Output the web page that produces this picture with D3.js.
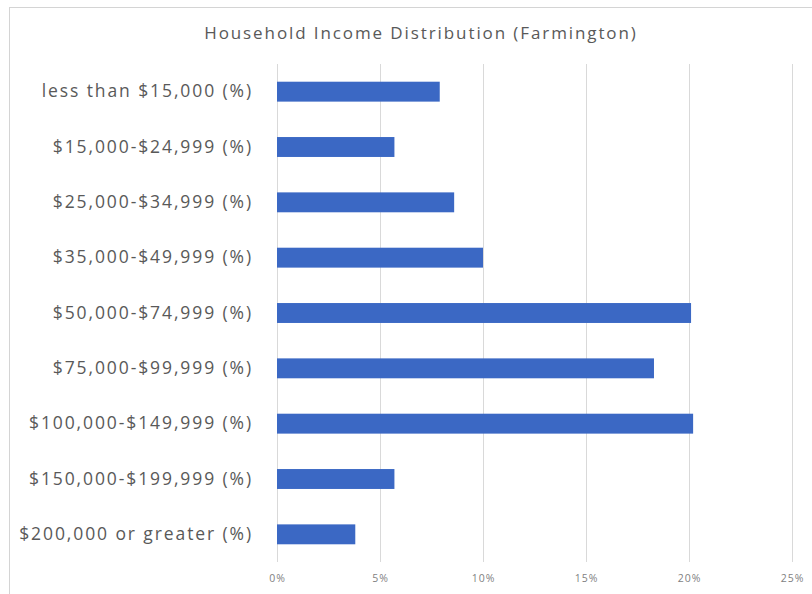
<!DOCTYPE html>
<meta charset="utf-8">
<style>
body { margin: 0; background: #fff; }
.grid line { stroke: #d9d9d9; }
.grid path { stroke: none; }
.xaxis text { fill: #7f7f7f; font-family: 'Open Sans'; font-size: 10.5px; letter-spacing: 1px; }
.yaxis text { fill: #595959; font-family: 'Open Sans'; font-size: 17.5px; letter-spacing: 1.9px; }
</style>
<body>
<div id="chart"></div>
<script src="https://d3js.org/d3.v7.min.js"></script>
<script>

    // data
    var categories = [
        "less than $15,000 (%)",
        "$15,000-$24,999 (%)",
        "$25,000-$34,999 (%)",
        "$35,000-$49,999 (%)",
        "$50,000-$74,999 (%)",
        "$75,000-$99,999 (%)",
        "$100,000-$149,999 (%)",
        "$150,000-$199,999 (%)",
        "$200,000 or greater (%)"
    ];
    var values = [7.9, 5.7, 8.6, 10.0, 20.1, 18.3, 20.2, 5.7, 3.8];
    var xTicks = [0, 5, 10, 15, 20, 25];

    var W = 812, H = 594;
    var margin = {top: 64, right: 20, bottom: 32, left: 277};
    var width = 792 - margin.left,
        height = 562 - margin.top;

    var svg = d3.select("#chart").append("svg")
        .attr("width", W)
        .attr("height", H);

    // chart frame
    svg.append("rect")
        .attr("x", 9.5).attr("y", 7.5)
        .attr("width", W).attr("height", H - 6)
        .style("fill", "#fff")
        .style("stroke", "#d4d4d4");

    var g = svg.append("g")
        .attr("transform", "translate(" + margin.left + "," + margin.top + ")");

    var x = d3.scaleLinear().domain([0, 25]).range([0, width]);
    var y = d3.scaleBand().domain(categories).range([0, height]).paddingInner(0.64).paddingOuter(0.32);

    // vertical gridlines
    g.append("g")
        .attr("class", "grid")
        .attr("transform", "translate(0," + height + ")")
        .call(d3.axisBottom(x).tickValues(xTicks).tickSize(-height).tickFormat(""));

    // bars
    g.selectAll(".bar")
        .data(values)
        .enter().append("rect")
        .attr("class", "bar")
        .attr("x", 0)
        .attr("y", function(d, i) { return y(categories[i]); })
        .attr("width", function(d) { return x(d); })
        .attr("height", y.bandwidth())
        .style("fill", "#3b68c4");

    // x axis labels
    var xa = g.append("g")
        .attr("class", "xaxis")
        .attr("transform", "translate(0," + height + ")")
        .call(d3.axisBottom(x).tickValues(xTicks).tickSize(0).tickPadding(13)
            .tickFormat(function(d) { return d + "%"; }));
    xa.select(".domain").remove();

    // y axis labels
    var ya = g.append("g")
        .attr("class", "yaxis")
        .call(d3.axisLeft(y).tickSize(0).tickPadding(24));
    ya.select(".domain").remove();

    // title
    svg.append("text")
        .attr("x", 421)
        .attr("y", 39)
        .attr("text-anchor", "middle")
        .style("font-family", "Open Sans")
        .style("font-size", "17px")
        .style("letter-spacing", "1.9px")
        .style("fill", "#595959")
        .text("Household Income Distribution (Farmington)");

</script>
</body>
